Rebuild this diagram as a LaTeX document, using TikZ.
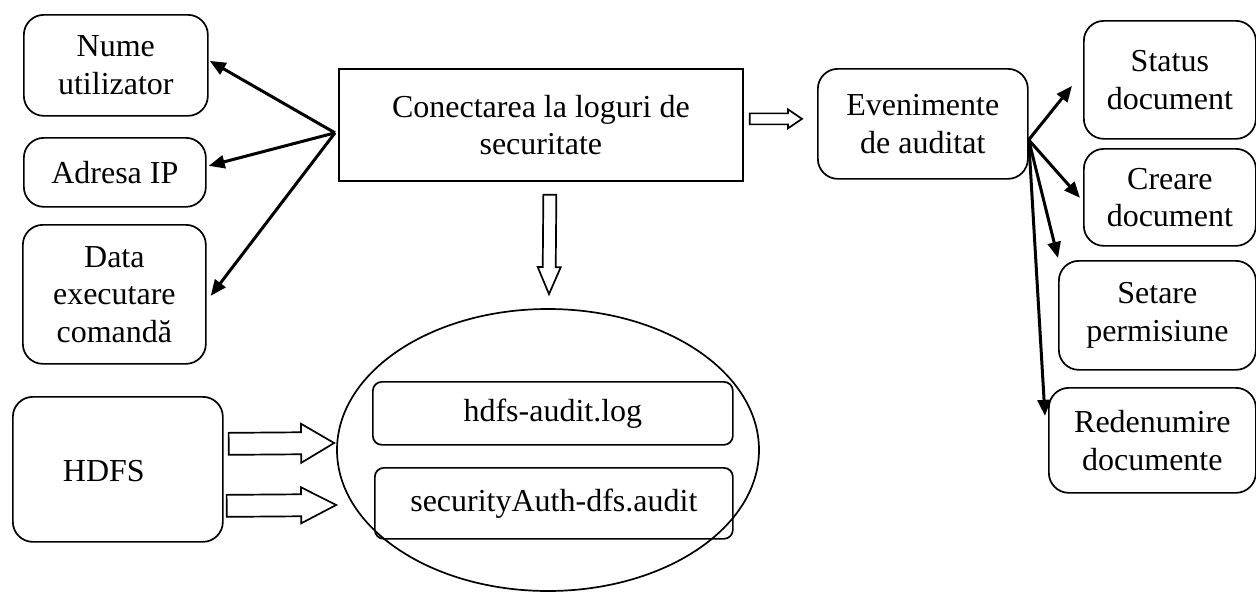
\documentclass[tikz,border=0pt]{standalone}
\usepackage{fontspec}
\setmainfont{Liberation Serif}
\usetikzlibrary{arrows.meta,calc,shapes.geometric}
\newcommand{\blockarrow}[5]{%
  \coordinate (ba-h) at ($(#2)!#5!(#1)$);
  \draw[hollowarrow] ($(#1)!#3!90:(#2)$) -- ($(ba-h)!#3!90:(#2)$) -- ($(ba-h)!#4!90:(#2)$) -- (#2)
    -- ($(ba-h)!#4!-90:(#2)$) -- ($(ba-h)!#3!-90:(#2)$) -- ($(#1)!#3!-90:(#2)$) -- cycle;}
\tikzset{
  box/.style={draw, line width=1.7pt, rounded corners=20pt, anchor=north west, align=center,
    inner sep=0pt, font=\fontsize{32}{37.5}\selectfont},
  sbox/.style={box, rounded corners=0pt},
  lbox/.style={box, rounded corners=9pt},
  thinarrow/.style={line width=3pt, -{Triangle[length=16pt,width=13pt]}},
  hollowarrow/.style={draw, line width=1.7pt, fill=white, line join=miter},
}
\begin{document}
\begin{tikzpicture}[x=1pt,y=-1pt]
\useasboundingbox (0,0) rectangle (1256,595);
% left boxes
\node[box, minimum width=184pt, minimum height=101pt] (nume) at (23,14) {Nume\\utilizator};
\node[box, minimum width=182pt, minimum height=69pt] (adresa) at (23,137) {Adresa IP};
\node[box, minimum width=183pt, minimum height=139pt] (data) at (22,224) {Data\\executare\\comandă};
% main
\node[sbox, minimum width=404pt, minimum height=112pt] (main) at (338,68) {Conectarea la loguri de\\securitate};
% events
\node[box, minimum width=210pt, minimum height=110pt] (ev) at (817,68) {Evenimente\\de auditat};
\node[box, minimum width=172pt, minimum height=118pt] (status) at (1083,20) {Status\\document};
\node[box, minimum width=172pt, minimum height=97pt] (creare) at (1083,148) {Creare\\document};
\node[box, minimum width=197pt, minimum height=109pt] (setare) at (1058,260) {Setare\\permisiune};
\node[box, minimum width=207pt, minimum height=105pt] (redenumire) at (1048,387) {Redenumire\\documente};
% HDFS
\node[box, minimum width=210pt, minimum height=145pt] (hdfs) at (12,396) {};
\node[font=\fontsize{32}{37.5}\selectfont, inner sep=0pt] (hdfstext) at ($(hdfs.center)+(-14,2)$) {HDFS};
% ellipse and logs
\node[draw, ellipse, line width=1.7pt, minimum width=422pt, minimum height=282pt, inner sep=0pt] (ell) at (548,450) {};
\node[lbox, minimum width=360pt, minimum height=63pt] (log1) at (372,381) {hdfs-audit.log};
\node[lbox, minimum width=358pt, minimum height=71pt] (log2) at (374,467) {securityAuth-dfs.audit};
% thin arrows left
\coordinate (src) at ($(main.west)+(-3,8)$);
\coordinate (tnume) at ($(nume.east)+(1,-4.5)$);
\coordinate (tadresa) at ($(adresa.east)+(2,-6.5)$);
\coordinate (tdata) at ($(data.east)+(4,1.5)$);
\draw[thinarrow] (src) -- (tnume);
\draw[thinarrow] (src) -- (tadresa);
\draw[thinarrow] (src) -- (tdata);
% thin arrows right
\coordinate (esrc) at ($(ev.east)+(0,16)$);
\coordinate (tstatus) at ($(status.west)+(-11,6)$);
\coordinate (tcreare) at ($(creare.west)+(-3,0.5)$);
\coordinate (tsetare) at ($(setare.north west)+(0,-2)$);
\coordinate (tred) at ($(redenumire.west)+(-3,-24.5)$);
\draw[thinarrow] (esrc) -- (tstatus);
\draw[thinarrow] (esrc) -- (tcreare);
\draw[thinarrow] (esrc) -- (tsetare);
\draw[thinarrow] (esrc) -- (tred);
% hollow arrows
\coordinate (r1) at ($(main.east)+(6,-6)$);
\coordinate (r2) at ($(ev.west)+(-15,-5)$);
\blockarrow{r1}{r2}{5.5pt}{9.5pt}{14pt}
\coordinate (d1) at ($(main.south)+(9,13)$);
\coordinate (d2) at ($(ell.north)+(1,-14)$);
\blockarrow{d1}{d2}{6.5pt}{11.5pt}{27pt}
\coordinate (h1s) at ($(hdfs.east)+(5,-25.5)$);
\coordinate (h1e) at ($(ell.west)+(-2,-7)$);
\blockarrow{h1s}{h1e}{11pt}{19.5pt}{33pt}
\coordinate (h2s) at ($(hdfs.east)+(3,36.5)$);
\coordinate (h2e) at ($(ell.west)+(0,55)$);
\blockarrow{h2s}{h2e}{11pt}{18pt}{35pt}
\end{tikzpicture}
\end{document}
